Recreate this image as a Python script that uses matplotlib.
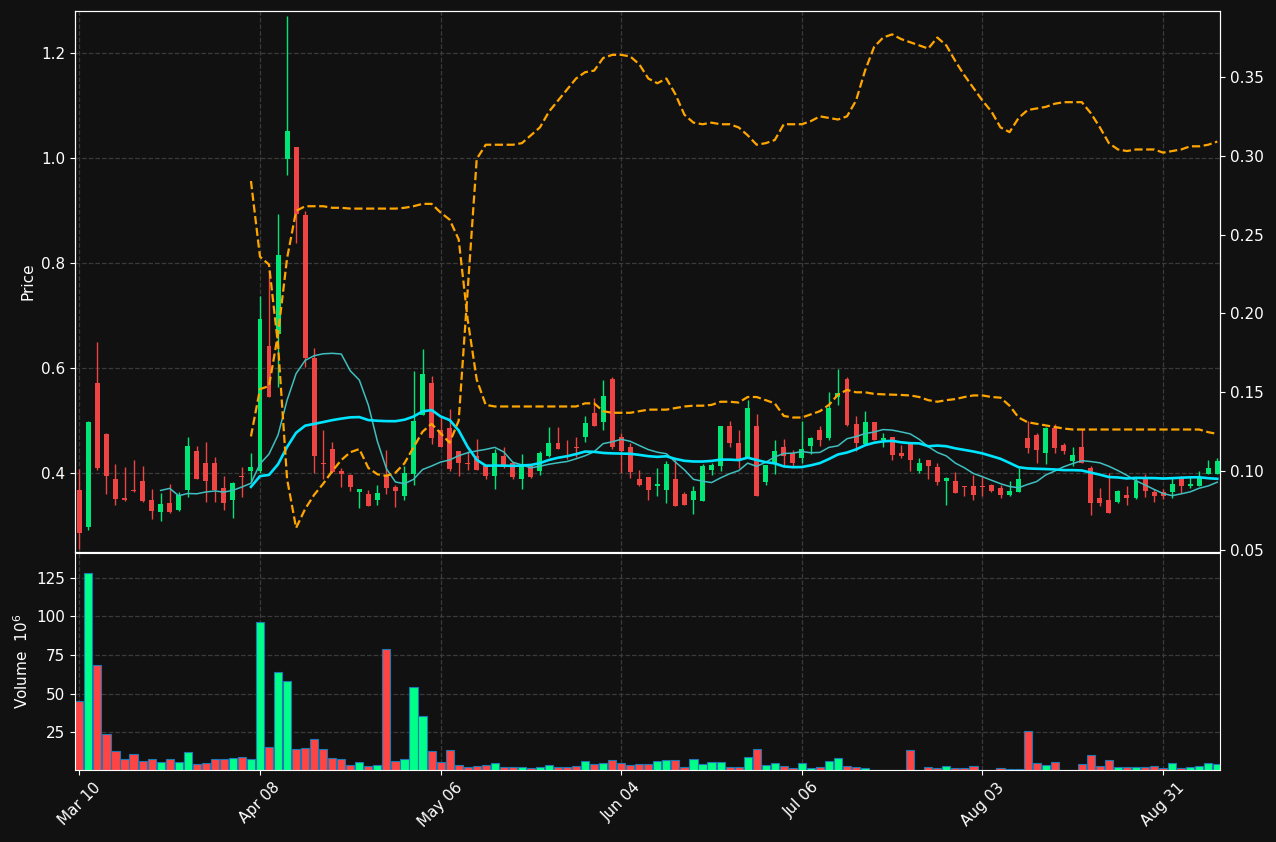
import numpy as np
import pandas as pd
import matplotlib
matplotlib.use('Agg')
from matplotlib import pyplot as plt

plt.rcParams.update({'font.size': 11, 'font.family': 'DejaVu Sans'})

# OHLC (one candle per trading day)
opens = [0.368, 0.298, 0.571, 0.474, 0.389, 0.352, 0.366, 0.385, 0.349, 0.325,
         0.342, 0.330, 0.368, 0.441, 0.420, 0.420, 0.371, 0.349, 0.395, 0.404,
         0.403, 0.641, 0.665, 0.999, 1.021, 0.892, 0.620, 0.419, 0.445, 0.403,
         0.397, 0.363, 0.360, 0.349, 0.397, 0.373, 0.357, 0.399, 0.510, 0.571,
         0.481, 0.486, 0.441, 0.420, 0.433, 0.414, 0.395, 0.433, 0.420, 0.388,
         0.415, 0.404, 0.433, 0.458, 0.432, 0.449, 0.468, 0.515, 0.497, 0.579,
         0.469, 0.450, 0.389, 0.393, 0.375, 0.368, 0.389, 0.360, 0.349, 0.347,
         0.406, 0.414, 0.490, 0.458, 0.430, 0.490, 0.382, 0.419, 0.450, 0.438,
         0.428, 0.452, 0.481, 0.467, 0.544, 0.580, 0.494, 0.455, 0.498, 0.462,
         0.469, 0.439, 0.457, 0.403, 0.425, 0.411, 0.384, 0.385, 0.376, 0.376,
         0.375, 0.378, 0.372, 0.359, 0.363, 0.467, 0.473, 0.439, 0.486, 0.454,
         0.423, 0.450, 0.410, 0.353, 0.349, 0.345, 0.359, 0.352, 0.391, 0.364,
         0.363, 0.363, 0.390, 0.376, 0.376, 0.398, 0.399]
highs = [0.408, 0.499, 0.649, 0.477, 0.417, 0.411, 0.425, 0.414, 0.370, 0.362,
         0.380, 0.363, 0.469, 0.452, 0.460, 0.431, 0.394, 0.382, 0.411, 0.438,
         0.738, 0.786, 0.894, 1.270, 1.021, 0.900, 0.639, 0.481, 0.459, 0.409,
         0.399, 0.369, 0.368, 0.377, 0.443, 0.378, 0.414, 0.594, 0.637, 0.585,
         0.506, 0.522, 0.441, 0.441, 0.465, 0.414, 0.446, 0.449, 0.420, 0.436,
         0.415, 0.441, 0.487, 0.487, 0.463, 0.469, 0.509, 0.542, 0.577, 0.582,
         0.477, 0.458, 0.406, 0.393, 0.410, 0.422, 0.427, 0.364, 0.376, 0.417,
         0.420, 0.490, 0.500, 0.481, 0.539, 0.512, 0.416, 0.463, 0.465, 0.443,
         0.500, 0.469, 0.489, 0.555, 0.599, 0.582, 0.509, 0.519, 0.498, 0.477,
         0.469, 0.453, 0.457, 0.429, 0.425, 0.419, 0.393, 0.401, 0.376, 0.397,
         0.392, 0.379, 0.377, 0.384, 0.410, 0.500, 0.477, 0.488, 0.493, 0.457,
         0.450, 0.484, 0.414, 0.372, 0.400, 0.368, 0.376, 0.392, 0.398, 0.370,
         0.370, 0.390, 0.394, 0.392, 0.404, 0.425, 0.429]
lows = [0.255, 0.291, 0.405, 0.360, 0.340, 0.347, 0.364, 0.345, 0.312, 0.309,
        0.324, 0.328, 0.354, 0.388, 0.344, 0.344, 0.330, 0.314, 0.354, 0.382,
        0.400, 0.545, 0.564, 0.967, 0.839, 0.602, 0.400, 0.389, 0.400, 0.374,
        0.366, 0.333, 0.337, 0.339, 0.360, 0.336, 0.348, 0.377, 0.510, 0.455,
        0.449, 0.404, 0.394, 0.406, 0.405, 0.389, 0.369, 0.409, 0.388, 0.369,
        0.390, 0.396, 0.430, 0.446, 0.427, 0.430, 0.460, 0.489, 0.481, 0.446,
        0.400, 0.390, 0.375, 0.349, 0.356, 0.343, 0.338, 0.340, 0.322, 0.347,
        0.397, 0.403, 0.449, 0.410, 0.430, 0.357, 0.378, 0.399, 0.411, 0.412,
        0.420, 0.437, 0.451, 0.463, 0.530, 0.489, 0.441, 0.454, 0.462, 0.449,
        0.425, 0.428, 0.404, 0.400, 0.389, 0.378, 0.339, 0.361, 0.357, 0.349,
        0.357, 0.363, 0.352, 0.357, 0.363, 0.439, 0.420, 0.418, 0.439, 0.436,
        0.413, 0.420, 0.320, 0.338, 0.323, 0.342, 0.339, 0.350, 0.355, 0.345,
        0.350, 0.352, 0.362, 0.371, 0.376, 0.398, 0.399]
closes = [0.286, 0.498, 0.409, 0.395, 0.350, 0.349, 0.365, 0.347, 0.328, 0.341,
          0.325, 0.358, 0.452, 0.389, 0.385, 0.368, 0.343, 0.381, 0.392, 0.412,
          0.694, 0.545, 0.815, 1.051, 0.893, 0.619, 0.433, 0.417, 0.401, 0.399,
          0.373, 0.369, 0.338, 0.362, 0.371, 0.366, 0.400, 0.500, 0.588, 0.466,
          0.449, 0.408, 0.420, 0.418, 0.406, 0.395, 0.438, 0.413, 0.392, 0.415,
          0.393, 0.439, 0.458, 0.446, 0.430, 0.447, 0.496, 0.489, 0.547, 0.449,
          0.441, 0.401, 0.378, 0.368, 0.380, 0.418, 0.338, 0.340, 0.366, 0.414,
          0.415, 0.490, 0.457, 0.427, 0.523, 0.357, 0.416, 0.441, 0.432, 0.420,
          0.446, 0.467, 0.463, 0.523, 0.553, 0.492, 0.457, 0.498, 0.462, 0.467,
          0.435, 0.433, 0.425, 0.419, 0.413, 0.383, 0.390, 0.361, 0.373, 0.359,
          0.373, 0.366, 0.359, 0.366, 0.389, 0.447, 0.444, 0.486, 0.448, 0.441,
          0.435, 0.420, 0.342, 0.342, 0.323, 0.366, 0.352, 0.385, 0.366, 0.357,
          0.356, 0.380, 0.376, 0.380, 0.392, 0.410, 0.423]
# volume in millions
volumes = [45.5, 128.0, 68.4, 23.7, 12.7, 7.5, 10.7, 6.6, 7.9, 6.0,
           7.5, 6.0, 12.5, 4.3, 4.9, 7.5, 7.5, 8.6, 9.2, 7.9,
           96.3, 15.7, 63.7, 58.5, 14.4, 15.1, 20.9, 14.0, 8.6, 7.5,
           4.0, 6.0, 3.4, 4.0, 78.8, 6.6, 7.5, 54.2, 35.4, 12.7,
           5.6, 13.3, 3.6, 2.3, 3.0, 3.6, 4.9, 2.8, 2.8, 2.8,
           1.7, 2.3, 3.6, 2.3, 2.3, 3.0, 6.2, 4.3, 4.9, 6.9,
           4.9, 3.6, 4.3, 4.3, 6.2, 6.9, 6.9, 2.3, 7.5, 4.3,
           5.6, 5.6, 2.3, 2.3, 8.8, 14.0, 3.6, 4.9, 3.0, 1.7,
           4.9, 1.7, 2.3, 6.2, 8.2, 3.0, 2.3, 1.7, 0.8, 0.8,
           0.8, 0.8, 13.3, 0.8, 2.3, 1.7, 3.0, 1.7, 1.7, 3.0,
           0.8, 0.8, 1.7, 1.5, 1.5, 25.6, 4.9, 3.6, 5.6, 0.8,
           0.8, 4.3, 10.1, 3.0, 6.9, 2.3, 2.3, 2.3, 2.3, 3.0,
           1.7, 4.9, 1.7, 2.3, 3.0, 4.9, 4.3]

# two indicator lines on the right axis, starting at candle 19
ind_start = 19
ind_a = [0.284, 0.236, 0.231, 0.180, 0.095, 0.064, 0.076, 0.085, 0.092, 0.100,
         0.107, 0.112, 0.114, 0.102, 0.098, 0.097, 0.099, 0.105, 0.115, 0.125,
         0.130, 0.124, 0.118, 0.132, 0.215, 0.298, 0.307, 0.307, 0.307, 0.307,
         0.308, 0.313, 0.318, 0.328, 0.335, 0.342, 0.349, 0.353, 0.354, 0.362,
         0.364, 0.364, 0.363, 0.358, 0.349, 0.346, 0.349, 0.339, 0.326, 0.321,
         0.320, 0.321, 0.320, 0.320, 0.318, 0.313, 0.307, 0.308, 0.310, 0.320,
         0.320, 0.320, 0.322, 0.325, 0.324, 0.323, 0.325, 0.335, 0.354, 0.369,
         0.375, 0.377, 0.374, 0.372, 0.370, 0.368, 0.375, 0.370, 0.360, 0.351,
         0.343, 0.335, 0.328, 0.318, 0.315, 0.324, 0.329, 0.330, 0.331, 0.333,
         0.334, 0.334, 0.334, 0.327, 0.318, 0.308, 0.304, 0.303, 0.304, 0.304,
         0.304, 0.302, 0.303, 0.304, 0.306, 0.306, 0.307, 0.309]
ind_b = [0.122, 0.152, 0.154, 0.187, 0.235, 0.265, 0.268, 0.268, 0.268, 0.267,
         0.267, 0.2665, 0.2665, 0.2665, 0.2665, 0.2665, 0.2665, 0.267, 0.268, 0.2695,
         0.2695, 0.264, 0.2595, 0.247, 0.196, 0.158, 0.142, 0.141, 0.141, 0.141,
         0.141, 0.141, 0.141, 0.141, 0.141, 0.141, 0.141, 0.143, 0.143, 0.138,
         0.137, 0.137, 0.137, 0.138, 0.139, 0.139, 0.139, 0.140, 0.141, 0.1415,
         0.1415, 0.142, 0.144, 0.144, 0.1435, 0.147, 0.147, 0.145, 0.143, 0.135,
         0.134, 0.134, 0.136, 0.138, 0.142, 0.1485, 0.1515, 0.150, 0.150, 0.149,
         0.1487, 0.1485, 0.1483, 0.148, 0.147, 0.145, 0.144, 0.145, 0.1457, 0.147,
         0.148, 0.148, 0.147, 0.1466, 0.1415, 0.134, 0.131, 0.130, 0.129, 0.128,
         0.127, 0.1264, 0.1264, 0.1264, 0.1264, 0.1264, 0.1264, 0.1264, 0.1264, 0.1264,
         0.1264, 0.1264, 0.1264, 0.1264, 0.1264, 0.1264, 0.1247, 0.1236]

tick_labels = ['Mar 10', 'Apr 08', 'May 06', 'Jun 04', 'Jul 06', 'Aug 03', 'Aug 31']

bg = '#111111'
up_col, down_col = '#00e676', '#ef4444'
vup_col, vdown_col = '#00ff88', '#ff4444'

n = len(closes)
x = np.arange(n)
o, h, l, c = map(np.array, (opens, highs, lows, closes))
up = c >= o
ma10 = pd.Series(c).rolling(10).mean()
ma20 = pd.Series(c).rolling(20).mean()
xi = np.arange(ind_start, ind_start + len(ind_a))

fig = plt.figure(figsize=(12.76, 8.42), dpi=100, facecolor=bg)
ax = fig.add_axes([0.0588, 0.3444, 0.8973, 0.6425], facecolor=bg)
axv = fig.add_axes([0.0588, 0.0855, 0.8973, 0.2577], facecolor=bg, sharex=ax)

# candles
ax.vlines(x[up], l[up], h[up], color=up_col, lw=1, zorder=2)
ax.vlines(x[~up], l[~up], h[~up], color=down_col, lw=1, zorder=2)
body_lo = np.minimum(o, c)
body_h = np.maximum(np.abs(c - o), 0.002)
ax.bar(x[up], body_h[up], bottom=body_lo[up], width=0.55, color=up_col, lw=0, zorder=3)
ax.bar(x[~up], body_h[~up], bottom=body_lo[~up], width=0.55, color=down_col, lw=0, zorder=3)

ax.plot(x, ma10, color='#3fbfbf', lw=1.1, zorder=4)
ax.plot(x, ma20, color='#00e5ff', lw=1.9, zorder=4)

ax.set_ylim(0.2495, 1.28)
ax.set_yticks([0.4, 0.6, 0.8, 1.0, 1.2])
ax.set_ylabel('Price', color='white')
ax.set_xlim(-0.48, 126.3)

ax2 = ax.twinx()
ax2.plot(xi, ind_a, color='orange', lw=1.6, ls='--')
ax2.plot(xi, ind_b, color='orange', lw=1.6, ls='--')
ax2.set_ylim(0.0487, 0.3918)
ax2.set_yticks([0.05, 0.10, 0.15, 0.20, 0.25, 0.30, 0.35])
ax2.yaxis.set_major_formatter(matplotlib.ticker.FormatStrFormatter('%.2f'))

# volume
vcols = np.where(up, vup_col, vdown_col)
axv.bar(x, volumes, width=0.9, color=vcols, edgecolor='#1f77b4', lw=0.8)
axv.set_ylim(0.6, 141)
axv.set_yticks([25, 50, 75, 100, 125])
axv.set_ylabel('Volume  $10^{6}$', color='white')
axv.set_xticks(np.arange(0, n, 20)[:len(tick_labels)])
axv.set_xticklabels(tick_labels, rotation=45, ha='center')
plt.setp(ax.get_xticklabels(), visible=False)

for a in (ax, axv, ax2):
    a.tick_params(colors='white', labelcolor='white')
    for s in a.spines.values():
        s.set_color('white')
for a in (ax, axv):
    a.grid(True, color='#3a3a3a', ls='--', lw=0.9)
    a.set_axisbelow(True)

fig.savefig('out.png', dpi=100, facecolor=bg)
